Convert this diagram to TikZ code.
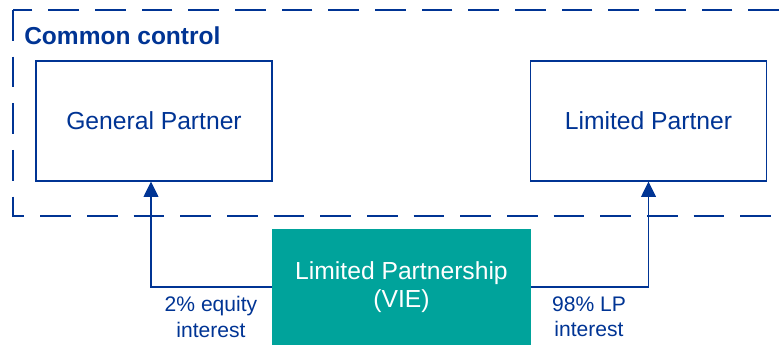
\documentclass[tikz,border=0pt]{standalone}
\usepackage{fontspec}
\setmainfont{Liberation Sans}
\usepackage{xcolor}
\usepackage{tikz}
\usetikzlibrary{arrows.meta}

\definecolor{ctrlblue}{RGB}{0,52,148}
\definecolor{vieteal}{RGB}{0,163,155}

\begin{document}
\begin{tikzpicture}[x=0.75pt,y=-0.75pt,
  >={Triangle[length=11.5pt,width=11pt]},
  party/.style={draw=ctrlblue,line width=0.8pt,fill=white,text=ctrlblue,inner sep=0pt,minimum width=177pt,minimum height=90pt,font=\fontsize{18.5}{22}\selectfont},
  vehicle/.style={fill=vieteal,text=white,inner sep=0pt,minimum width=194.5pt,minimum height=87pt,align=center,font=\fontsize{18.5}{21}\selectfont},
  share/.style={text=ctrlblue,align=center,inner sep=0pt,font=\fontsize{15.8}{19}\selectfont},
  own/.style={->,draw=ctrlblue,line width=1.2pt}]
  \clip (0,0) rectangle (782,345);
  % common control group
  \draw[ctrlblue,line width=1.8pt,dash pattern=on 23pt off 12pt] (13,10) rectangle (820,216);
  \node[anchor=base west,text=ctrlblue,inner sep=0pt,font=\bfseries\fontsize{18.4}{22}\selectfont] (ctrl) at (24,45) {Common control};
  % partners
  \node[party] (gp) at (154,121) {General Partner};
  \node[party] (lp) at (648.5,121) {Limited Partner};
  \node[vehicle] (vie) at (401.5,287) {Limited Partnership\\(VIE)};
  % ownership
  \draw[own] (vie.west) -| ([xshift=-2.25pt]gp.south);
  \draw[own] (vie.east) -| (lp.south);
  \node[share] (gpshare) at (211,317) {2\% equity\\interest};
  \node[share] (lpshare) at (589,317) {98\% LP\\interest};
\end{tikzpicture}
\end{document}
